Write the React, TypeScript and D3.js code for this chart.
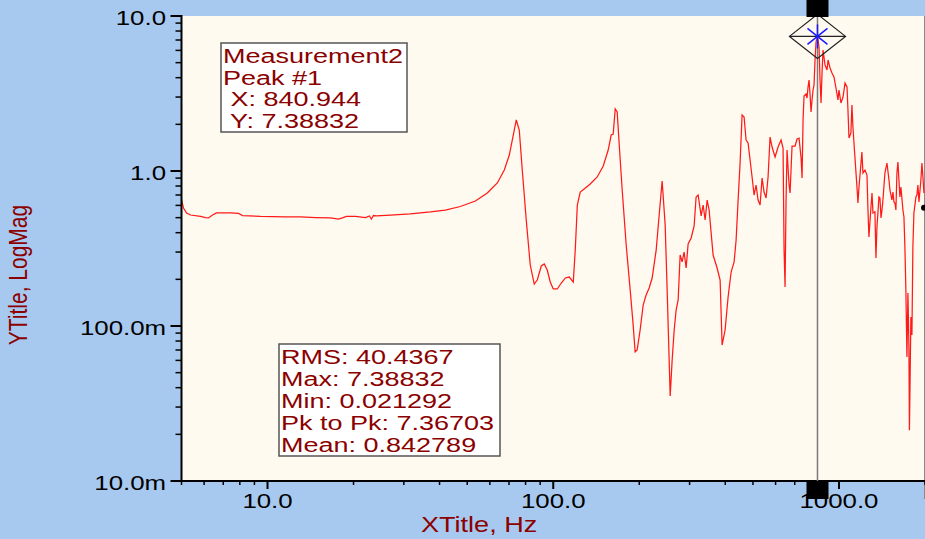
import React from "react";
import * as d3 from "d3";

// ---- data (frequency Hz, magnitude) ----
const spectrum: [number, number][] = [
  [5.0, 0.65], [5.08, 0.577], [5.21, 0.536], [5.38, 0.52], [5.83, 0.509], [6.07, 0.501], [6.22, 0.498],
  [6.42, 0.52], [6.63, 0.536], [7.42, 0.536], [7.92, 0.532], [8.18, 0.516], [9.45, 0.509], [11.56, 0.505],
  [13.05, 0.505], [14.72, 0.501], [16.61, 0.498], [17.72, 0.49], [18.29, 0.498], [18.89, 0.509], [20.31, 0.509],
  [22.01, 0.501], [22.73, 0.513], [23.1, 0.49], [23.48, 0.516], [24.05, 0.513], [26.92, 0.52], [31.62, 0.528],
  [37.14, 0.544], [41.92, 0.56], [47.3, 0.59], [53.38, 0.64], [58.78, 0.721], [63.72, 0.837], [67.41, 1.015],
  [70.18, 1.268], [72.46, 1.707], [74.23, 2.134], [76.05, 1.839], [77.91, 1.015], [80.45, 0.483], [83.08, 0.2474],
  [85.81, 0.1866], [87.91, 0.198], [90.79, 0.2438], [93.0, 0.2512], [95.28, 0.2297], [97.6, 0.1922], [100, 0.1733],
  [103.3, 0.1733], [106.7, 0.1894], [110.2, 0.2042], [113.8, 0.207], [117.5, 0.1922], [119.4, 0.309], [121.4, 0.6035],
  [124.3, 0.732], [128.3, 0.766], [134.7, 0.824], [142.5, 0.915], [149.6, 1.077], [155.7, 1.366], [159.5, 1.707],
  [162.1, 1.73], [164.8, 2.512], [167.4, 2.403], [170.2, 1.471], [174.3, 0.754], [180.0, 0.333], [185.9, 0.1707],
  [190.4, 0.1015], [193.5, 0.068], [196.6, 0.07], [201.4, 0.0942], [206.4, 0.1366], [211.4, 0.1585], [216.6, 0.1758],
  [221.9, 0.204], [229.2, 0.309], [234.8, 0.52], [240.5, 0.862], [246.4, 0.449], [250.4, 0.1707], [256.6, 0.03535],
  [260.7, 0.0604], [265.0, 0.0942], [269.2, 0.1268], [273.6, 0.1472], [278.0, 0.287], [282.5, 0.259], [287.1, 0.3],
  [291.8, 0.2366], [296.5, 0.338], [303.8, 0.37], [311.2, 0.4416], [316.2, 0.68], [321.4, 0.7], [329.3, 0.513],
  [334.6, 0.6035], [340.1, 0.483], [345.6, 0.65], [351.2, 0.56], [362.6, 0.287], [374.5, 0.2366], [383.7, 0.198],
  [389.9, 0.0754], [399.4, 0.0942], [409.2, 0.1538], [419.3, 0.223], [429.5, 0.259], [436.5, 0.359], [443.6, 0.65],
  [450.7, 1.126], [458.0, 2.297], [465.5, 2.23], [473.0, 1.585], [480.7, 1.516], [488.5, 1.178], [496.4, 0.915],
  [504.5, 0.7], [512.7, 0.812], [521.0, 0.65], [529.5, 0.6035], [538.1, 0.901], [546.8, 0.732], [555.7, 0.67],
  [564.7, 0.915], [573.8, 1.657], [583.2, 1.428], [597.4, 1.231], [612.0, 1.428], [627.0, 1.585], [637.2, 1.406],
  [642.4, 0.309], [647.5, 0.1787], [652.8, 0.65], [658.0, 1.366], [668.8, 0.812], [674.2, 0.721], [685.1, 1.449],
  [702.0, 1.449], [713.3, 1.609], [724.9, 1.63], [736.7, 1.213], [742.6, 0.901], [748.6, 2.134], [754.6, 3.048],
  [766.8, 3.14], [773.0, 2.958], [779.3, 3.484], [785.6, 3.866], [791.9, 3.14], [798.3, 2.403], [804.8, 2.872],
  [811.3, 3.332], [817.9, 3.59], [824.5, 5.2], [831.2, 6.8], [840.944, 7.38832], [851.5, 6.31], [858.4, 3.866],
  [865.3, 2.746], [872.3, 4.285], [879.4, 6.035], [893.6, 4.83], [908.2, 4.483], [915.6, 5.2], [930.4, 4.62],
  [945.2, 4.285], [960.5, 4.043], [976.1, 3.432], [991.9, 2.872], [1000, 3.332], [1016, 2.746], [1033, 3.002],
  [1050, 3.696], [1067, 3.484], [1075, 2.474], [1084, 1.633], [1101, 1.759], [1110, 2.666], [1119, 1.922],
  [1137, 1.231], [1156, 0.788], [1165, 0.6216], [1175, 0.788], [1203, 1.326], [1213, 0.971], [1233, 1.015],
  [1253, 0.942], [1263, 0.56], [1273, 0.375], [1294, 0.586], [1305, 0.721], [1315, 0.536], [1336, 0.545],
  [1347, 0.275], [1358, 0.435], [1380, 0.68], [1391, 0.67], [1403, 0.498], [1414, 0.56], [1425, 0.65],
  [1448, 0.971], [1472, 1.126], [1496, 0.875], [1508, 0.754], [1532, 0.65], [1545, 0.732], [1557, 0.631],
  [1570, 0.62], [1582, 0.56], [1595, 0.971], [1608, 1.143], [1621, 0.875], [1634, 0.68], [1647, 0.788],
  [1674, 0.56], [1688, 0.505], [1701, 0.3236], [1715, 0.163], [1729, 0.0631], [1743, 0.163], [1757, 0.0733],
  [1764, 0.021292], [1785, 0.1143], [1800, 0.0875], [1814, 0.3236], [1829, 0.536], [1859, 0.68], [1874, 0.7],
  [1889, 0.812], [1905, 0.631], [1935, 0.875], [1951, 1.126], [1967, 0.915], [1983, 0.721],
];

const peakFreq = 840.944;
const peakMag = 7.38832;
const endMarkerMag = 0.58;

const xMajorTicks = [10, 100, 1000];
const xTickLabels = ["10.0", "100.0", "1000.0"];
const yMajorTicks = [10, 1, 0.1, 0.01];
const yTickLabels = ["10.0", "1.0", "100.0m", "10.0m"];

const peakLines = ["Measurement2", "Peak #1", " X: 840.944", " Y: 7.38832"];
const statLines = ["RMS: 40.4367", "Max: 7.38832", "Min: 0.021292", "Pk to Pk: 7.36703", "Mean: 0.842789"];

const xTitle = "XTitle, Hz";
const yTitle = "YTitle, LogMag";

// ---- layout ----
const W = 925;
const H = 539;
const left = 181.5;
const right = 925;
const top = 16;
const bottom = 481;
const SX = 1.23;
const FONT = "'Liberation Sans', Arial, sans-serif";
const TEXT_RED = "#8b0000";

export default function App() {
  const x = d3.scaleLog().domain([5, 2000]).range([left, right]);
  const y = d3.scaleLog().domain([0.01, 10]).range([bottom, top]);

  const line = d3
    .line<[number, number]>()
    .x((d) => x(d[0]))
    .y((d) => y(d[1]));

  const xMinor: number[] = [];
  for (const dec of [1, 10, 100, 1000]) {
    for (let k = 2; k <= 9; k++) {
      const v = dec * k;
      if (v >= 5 && v <= 2000 && !xMajorTicks.includes(v)) xMinor.push(v);
    }
  }
  const yMinor: number[] = [];
  for (const dec of [0.01, 0.1, 1]) {
    for (let k = 2; k <= 9; k++) yMinor.push(dec * k);
  }

  const px = x(peakFreq);
  const py = y(peakMag);

  const stretchedText = (
    key: string | number,
    tx: number,
    ty: number,
    s: string,
    size: number,
    fill: string,
    anchor: string = "start",
    sx: number = SX
  ) => (
    <text
      key={key}
      transform={`translate(${tx},${ty}) scale(${sx},1)`}
      fontFamily={FONT}
      fontSize={size}
      fill={fill}
      textAnchor={anchor}
      style={{ whiteSpace: "pre" }}
    >
      {s}
    </text>
  );

  return (
    <svg
      width={W}
      height={H}
      style={{ position: "absolute", left: 0, top: 0, display: "block" }}
    >
      <defs>
        <clipPath id="plotClip">
          <rect x={left} y={top} width={right - left} height={bottom - top} />
        </clipPath>
      </defs>
      <rect x={0} y={0} width={W} height={H} fill="#a8c9ef" />
      <rect x={left} y={top} width={right - left} height={bottom - top} fill="#fffaef" />
      <line x1={924.5} x2={924.5} y1={top} y2={499} stroke="#8a8a8a" strokeWidth={1} />

      {/* trace */}
      <path
        d={line(spectrum) || ""}
        fill="none"
        stroke="#ff1a1a"
        strokeWidth={1.25}
        clipPath="url(#plotClip)"
      />

      {/* end marker */}
      <circle cx={right - 1} cy={y(endMarkerMag)} r={3} fill="#000" />

      {/* text boxes */}
      <rect x={221} y={43} width={186} height={89} fill="#ffffff" stroke="#555" strokeWidth={1.5} />
      {peakLines.map((s, i) => stretchedText("p" + i, 223, 63 + i * 21.6, s, 19.5, TEXT_RED, "start", 1.385))}
      <rect x={279} y={344} width={221} height={112} fill="#ffffff" stroke="#555" strokeWidth={1.5} />
      {statLines.map((s, i) => stretchedText("s" + i, 281, 364 + i * 21.9, s, 19.5, TEXT_RED, "start", 1.385))}

      {/* axes */}
      <line x1={left} x2={left} y1={top - 1} y2={bottom + 1} stroke="#000" strokeWidth={2} />
      <line x1={left - 1} x2={right} y1={bottom} y2={bottom} stroke="#000" strokeWidth={2} />
      {yMajorTicks.map((t, i) => (
        <g key={"ym" + i}>
          <line x1={left - 11} x2={left} y1={y(t)} y2={y(t)} stroke="#000" strokeWidth={2} />
          {stretchedText("yl" + i, 166, y(t) + 9, yTickLabels[i], 21, "#000", "end")}
        </g>
      ))}
      {yMinor.map((t, i) => (
        <line key={"yn" + i} x1={left - 6} x2={left} y1={y(t)} y2={y(t)} stroke="#000" strokeWidth={1.5} />
      ))}
      {xMajorTicks.map((t, i) => (
        <g key={"xm" + i}>
          <line x1={x(t)} x2={x(t)} y1={bottom} y2={bottom + 8} stroke="#000" strokeWidth={2} />
          {stretchedText("xl" + i, x(t), 508, xTickLabels[i], 21, "#000", "middle")}
        </g>
      ))}
      {xMinor.map((t, i) => (
        <line key={"xn" + i} x1={x(t)} x2={x(t)} y1={bottom} y2={bottom + 4} stroke="#000" strokeWidth={1.5} />
      ))}

      {/* axis titles */}
      {stretchedText("xt", 421, 532, xTitle, 22, TEXT_RED, "start")}
      <text
        transform={`translate(27,275) scale(${SX},1) rotate(-90)`}
        fontFamily={FONT}
        fontSize={21}
        fill={TEXT_RED}
        textAnchor="middle"
      >
        {yTitle}
      </text>

      {/* cursor */}
      <line x1={px} x2={px} y1={0} y2={499} stroke="#7a7a7a" strokeWidth={1.5} />
      <path
        d={`M${px - 28},${py} L${px},${py - 22} L${px + 28},${py} L${px},${py + 22} Z`}
        fill="none"
        stroke="#222"
        strokeWidth={1.2}
      />
      <line x1={px - 28} x2={px + 28} y1={py} y2={py} stroke="#222" strokeWidth={1.2} />
      <g stroke="#1a1aff" strokeWidth={1.5}>
        <line x1={px - 10} x2={px + 10} y1={py - 8} y2={py + 8} />
        <line x1={px - 10} x2={px + 10} y1={py + 8} y2={py - 8} />
        <line x1={px} x2={px} y1={py - 12} y2={py + 12} />
      </g>
      <rect x={px - 11} y={0} width={22} height={17} fill="#000" />
      <rect x={px - 11} y={481} width={22} height={18} fill="#000" />
    </svg>
  );
}
